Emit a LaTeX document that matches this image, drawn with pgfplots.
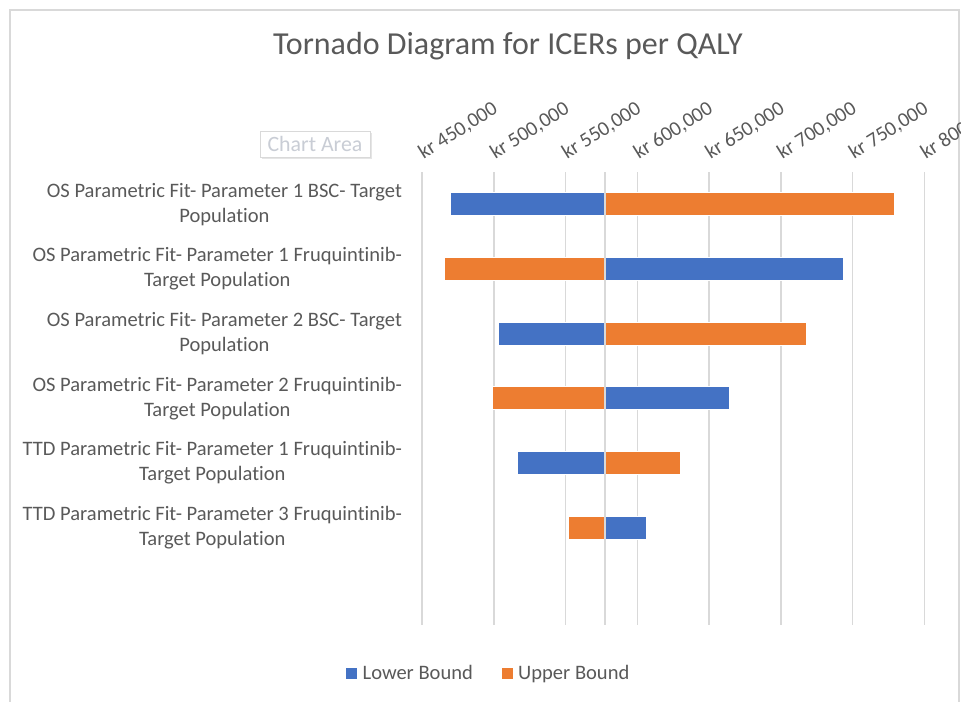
\documentclass[border=0pt]{standalone}
\usepackage{pgfplots}
\pgfplotsset{compat=1.18}
\usepackage{pgfplotstable}
\usepackage{fontspec}
\setmainfont{Carlito}[Ligatures=NoCommon]
\definecolor{txt}{HTML}{595959}
\definecolor{gridc}{HTML}{D9D9D9}
\definecolor{lowc}{HTML}{4472C4}
\definecolor{upc}{HTML}{ED7D31}
\definecolor{tipc}{HTML}{C9CDD5}

% ICER per QALY (kr), base case about 577,500
\pgfplotstableread{
row value
1 469400
2 743400
3 503300
4 664100
5 516300
6 606100
}\lowdata
\pgfplotstableread{
row value
1 779100
2 465200
3 717700
4 499100
5 630000
6 551900
}\updata

\begin{document}
\begin{tikzpicture}
\useasboundingbox (0,0) rectangle (720.75pt,-526.5pt);
\clip (0,0) rectangle (720.75pt,-526.5pt);
\draw[gridc, line width=1.5pt] (7.5pt,-560pt) -- (7.5pt,-7.5pt) -- (719.25pt,-7.5pt) -- (719.25pt,-560pt);
\node[text=txt, font=\fontsize{24}{29}\selectfont] at (381pt,-34.5pt) {Tornado Diagram for ICERs per QALY};

% "Chart Area" tooltip from the screenshot
\fill[black!10] (196.5pt,-99.75pt) rectangle (279pt,-119.25pt);
\draw[black!15, fill=white] (195pt,-98.25pt) rectangle (277.5pt,-117.75pt);
\node[text=tipc, font=\fontsize{16.4}{19}\selectfont] at (236.25pt,-108pt) {Chart Area};

\begin{axis}[
  at={(316.65pt,-129pt)}, anchor=north west,
  scale only axis, width=376.7pt, height=339.4pt,
  xbar, bar width=17.25pt,
  xmin=-127500, xmax=222500,
  ymin=0.5, ymax=7.5, y dir=reverse,
  x filter/.expression={x-577500},
  scaled x ticks=false,
  xtick={-127500,-77500,-27500,22500,72500,122500,172500,222500},
  xticklabels={{kr 450,000},{kr 500,000},{kr 550,000},{kr 600,000},{kr 650,000},{kr 700,000},{kr 750,000},{kr 800,000}},
  xticklabel pos=upper,
  xmajorgrids, grid style={gridc, line width=1.1pt},
  ytick={1,...,6},
  yticklabels={
    {OS Parametric Fit- Parameter 1 BSC- Target\\Population},
    {OS Parametric Fit- Parameter 1 Fruquintinib-\\Target Population},
    {OS Parametric Fit- Parameter 2 BSC- Target\\Population},
    {OS Parametric Fit- Parameter 2 Fruquintinib-\\Target Population},
    {TTD Parametric Fit- Parameter 1 Fruquintinib-\\Target Population},
    {TTD Parametric Fit- Parameter 3 Fruquintinib-\\Target Population}},
  axis line style={draw=none}, major tick length=0pt,
  tick label style={font=\fontsize{15.4}{18.75}\selectfont, text=txt},
  xticklabel style={xshift=2pt, yshift=7.5pt, rotate=32, anchor=south west, inner sep=0pt},
  yticklabel style={align=center, anchor=east, inner sep=0pt, xshift=-15pt},
  legend style={at={(axis description cs:0.133,-0.109)}, anchor=center, draw=none, fill=none,
    legend columns=2, font=\fontsize{15.4}{18.75}\selectfont, text=txt,
    /tikz/every even column/.append style={column sep=19.5pt}},
  legend image code/.code={\fill[#1, draw=none] (0pt,-4.1pt) rectangle (8.25pt,4.1pt);
    \path[draw=none, fill=none] (0pt,0pt) -- (10.5pt,0pt);},
  clip=false,
]
\addplot[fill=lowc, draw=white, line width=0.5pt, bar shift=0pt] table[x=value, y=row] {\lowdata};
\addlegendentry{Lower Bound}
\addplot[fill=upc, draw=white, line width=0.5pt, bar shift=0pt] table[x=value, y=row] {\updata};
\addlegendentry{Upper Bound}
\draw[gridc, line width=1.1pt] (axis description cs:0.3643,0) -- (axis description cs:0.3643,1);
\end{axis}
\end{tikzpicture}
\end{document}
